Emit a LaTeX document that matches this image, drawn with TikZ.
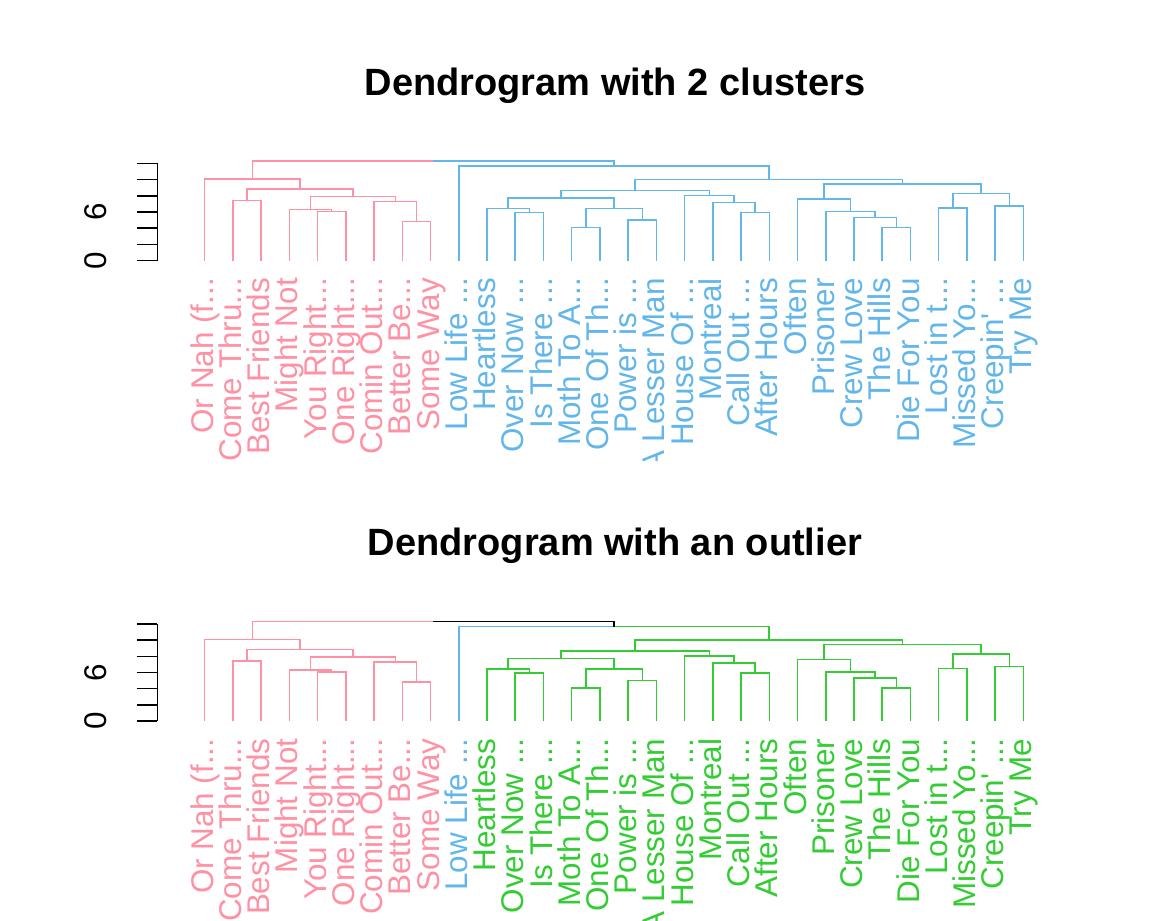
\documentclass[tikz,border=0pt]{standalone}
\usepackage{fontspec}
\setmainfont{Liberation Sans}
\usepackage{tikz}

\definecolor{dpink}{HTML}{FF91A4}
\definecolor{dblue}{HTML}{62B6EA}
\definecolor{dgreen}{HTML}{33CC33}

\newcommand{\tdots}{...}

\tikzset{
  branch/.style={draw=#1, line width=1.5pt},
  leaflabel/.style={rotate=90, anchor=base east, inner sep=0pt, font=\fontsize{31.4}{31.4}\selectfont},
  ticklabel/.style={rotate=90, anchor=base, inner sep=0pt, font=\fontsize{31.4}{31.4}\selectfont},
  plottitle/.style={anchor=base, inner sep=0pt, font=\bfseries\fontsize{38}{38}\selectfont}
}

% #1 top of the panel, #2 right half of the root, #3 Low Life, #4 rest of the right cluster
\newcommand{\dendropanel}[4]{%
  \begin{scope}
  \clip (0,#1) rectangle (1152,#1+460.5);
  \begin{scope}[shift={(204.7,#1+260.7)}, x={(28.23pt,0pt)}, y={(0pt,8.115pt)}]
  % axis
  \coordinate (a0) at (-1.679,0);
  \coordinate (a12) at (-1.679,12);
  \draw[branch=black] (a0) -- (a12);
  \foreach \h in {0,2,...,12}
    \draw[branch=black] (-1.679,\h) coordinate (t\h) -- ++(-20pt,0);
  \node[ticklabel] (y0) at ([xshift=-51pt]t0) {0};
  \node[ticklabel] (y6) at ([xshift=-51pt]t6) {6};
  % leaves
  \foreach \i in {0,...,29}
    \coordinate (l\i) at (\i,0);
  % merges
  \coordinate (m12) at (1.5,7.39);
  \coordinate (m45) at (4.5,6.04);
  \coordinate (m345) at (3.75,6.33);
  \coordinate (m78) at (7.5,4.81);
  \coordinate (m678) at (6.75,7.27);
  \coordinate (m38) at (5.25,7.94);
  \coordinate (m18) at (3.375,8.84);
  \coordinate (m08) at (1.6875,10.07);
  \coordinate (m1112) at (11.5,5.92);
  \coordinate (m1012) at (10.75,6.46);
  \coordinate (m1314) at (13.5,4.07);
  \coordinate (m1516) at (15.5,5.02);
  \coordinate (m1316) at (14.5,6.46);
  \coordinate (m1016) at (12.625,7.73);
  \coordinate (m1920) at (19.5,5.92);
  \coordinate (m1820) at (18.75,7.15);
  \coordinate (m1720) at (17.875,8.01);
  \coordinate (m1020) at (15.25,8.63);
  \coordinate (m2425) at (24.5,4.07);
  \coordinate (m2325) at (23.75,5.30);
  \coordinate (m2225) at (22.875,6.09);
  \coordinate (m2125) at (21.9375,7.60);
  \coordinate (m2627) at (26.5,6.49);
  \coordinate (m2829) at (28.5,6.74);
  \coordinate (m2629) at (27.5,8.31);
  \coordinate (m2129) at (24.71875,9.45);
  \coordinate (m1029) at (19.984,10.03);
  \coordinate (m929) at (14.492,11.67);
  \coordinate (root) at (8.09,12.29);
  % left cluster
  \draw[branch=dpink] (l1) |- (m12) -| (l2)
    (l4) |- (m45) -| (l5)
    (l3) |- (m345) -| (m45)
    (l7) |- (m78) -| (l8)
    (l6) |- (m678) -| (m78)
    (m345) |- (m38) -| (m678)
    (m12) |- (m18) -| (m38)
    (l0) |- (m08) -| (m18)
    (m08) |- (root);
  % right cluster
  \draw[branch=#4] (l11) |- (m1112) -| (l12)
    (l10) |- (m1012) -| (m1112)
    (l13) |- (m1314) -| (l14)
    (l15) |- (m1516) -| (l16)
    (m1314) |- (m1316) -| (m1516)
    (m1012) |- (m1016) -| (m1316)
    (l19) |- (m1920) -| (l20)
    (l18) |- (m1820) -| (m1920)
    (l17) |- (m1720) -| (m1820)
    (m1016) |- (m1020) -| (m1720)
    (l24) |- (m2425) -| (l25)
    (l23) |- (m2325) -| (m2425)
    (l22) |- (m2225) -| (m2325)
    (l21) |- (m2125) -| (m2225)
    (l26) |- (m2627) -| (l27)
    (l28) |- (m2829) -| (l29)
    (m2627) |- (m2629) -| (m2829)
    (m2125) |- (m2129) -| (m2629)
    (m1020) |- (m1029) -| (m2129)
    (m929) -| (m1029);
  \draw[branch=#3] (l9) |- (m929);
  \draw[branch=#2] (root) -| (m929);
  % labels
  \foreach \i/\t in {0/Or Nah (f\tdots,1/Come Thru\tdots,2/Best Friends,3/Might Not,
      4/You Right\tdots,5/One Right\tdots,6/Comin Out\tdots,7/Better Be\tdots,8/Some Way}
    \node[leaflabel, text=dpink] (n\i) at ([shift={(8.6pt,-17.3pt)}]l\i) {\t};
  \node[leaflabel, text=#3] (n9) at ([shift={(8.6pt,-17.3pt)}]l9) {Low Life \tdots};
  \foreach \i/\t in {10/Heartless,11/Over Now \tdots,12/Is There \tdots,13/Moth To A\tdots,
      14/One Of Th\tdots,15/Power is \tdots,16/A Lesser Man,17/House Of \tdots,18/Montreal,
      19/Call Out \tdots,20/After Hours,21/Often,22/Prisoner,23/Crew Love,24/The Hills,
      25/Die For You,26/Lost in t\tdots,27/Missed Yo\tdots,28/Creepin\textquotesingle\ \tdots,29/Try Me}
    \node[leaflabel, text=#4] (n\i) at ([shift={(8.6pt,-17.3pt)}]l\i) {\t};
  \end{scope}
  \end{scope}
}

\begin{document}
\begin{tikzpicture}[x=1pt, y=-1pt]
\useasboundingbox[fill=white] (0,0) rectangle (1152,921);
\node[plottitle] (title1) at (615,95) {Dendrogram with 2 clusters};
\node[plottitle] (title2) at (615,555.5) {Dendrogram with an outlier};
\dendropanel{0}{dblue}{dblue}{dblue}
\dendropanel{460.5}{black}{dblue}{dgreen}
\end{tikzpicture}
\end{document}
